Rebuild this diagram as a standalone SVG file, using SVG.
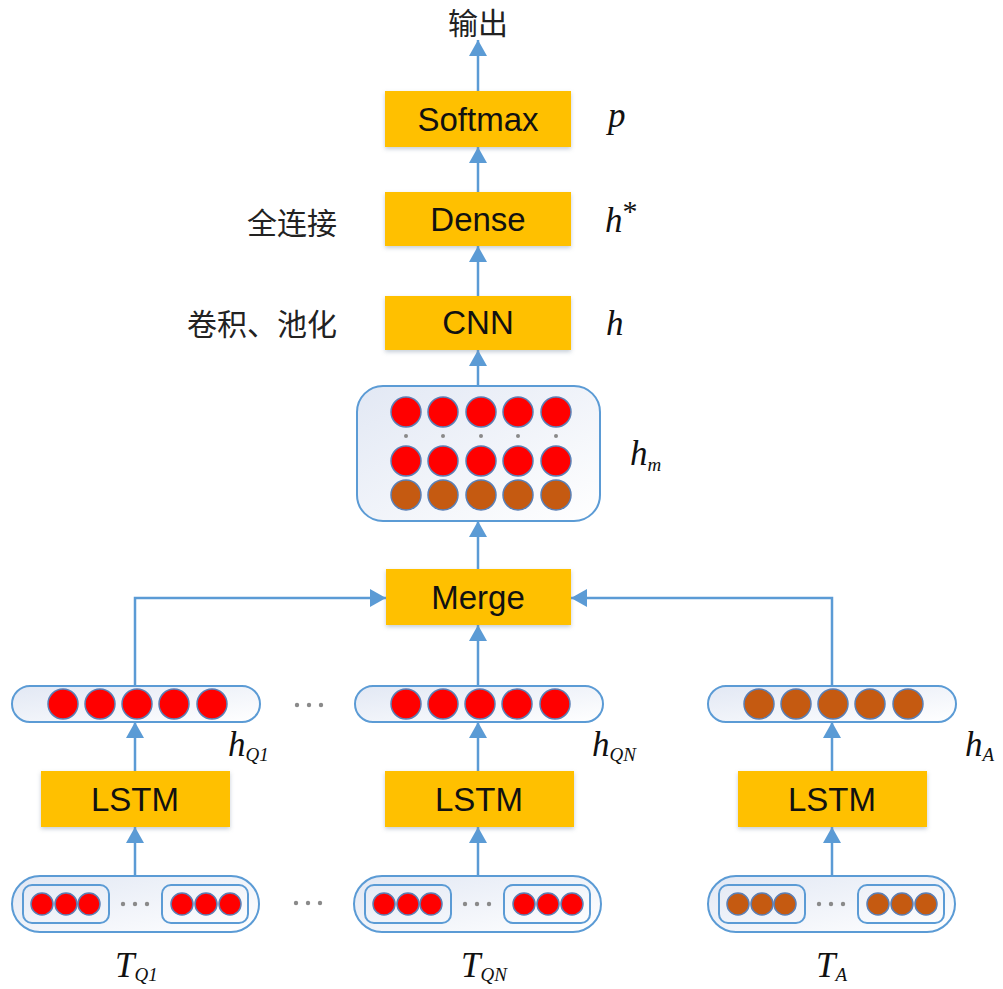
<svg xmlns="http://www.w3.org/2000/svg" xmlns:xlink="http://www.w3.org/1999/xlink" width="1003" height="989" viewBox="0 0 1003 989">
  <style>
    .box { fill: #FFC000; }
    .lbl { font-family: "Liberation Sans", Arial, sans-serif; font-size: 33px; fill: #111; text-anchor: middle; dominant-baseline: central; }
    .cjk { font-family: "Noto Sans CJK SC", "Liberation Sans", sans-serif; font-size: 30px; fill: #222; }
    .math { font-family: "Liberation Serif", "Times New Roman", serif; font-style: italic; font-size: 35px; fill: #111; }
    .sub { font-size: 19px; }
    .cap { fill: url(#capFill); stroke: #5B9BD5; stroke-width: 2; }
    .inner { fill: none; stroke: #5B9BD5; stroke-width: 2; }
    .red { fill: #FF0000; stroke: #5A7FB5; stroke-width: 1.5; }
    .brown { fill: #C55A11; stroke: #5A7FB5; stroke-width: 1.5; }
    .dot { fill: #8A8A8A; }
    .conn { fill: none; stroke: #5B9BD5; stroke-width: 2.5; marker-end: url(#arrow); }
  </style>
  <defs>
    <linearGradient id="capFill" x1="0" y1="0" x2="1" y2="1">
      <stop offset="0" stop-color="#E2E8F4"/>
      <stop offset="1" stop-color="#FFFFFF"/>
    </linearGradient>
    <filter id="shadow" x="-10%" y="-20%" width="120%" height="150%">
      <feDropShadow dx="0" dy="2" stdDeviation="2" flood-color="#7F8FA6" flood-opacity="0.45"/>
    </filter>
    <marker id="arrow" viewBox="0 0 16 18" refX="16" refY="9" markerWidth="16" markerHeight="18" markerUnits="userSpaceOnUse" orient="auto">
      <path d="M0,0 L16,9 L0,18 z" fill="#5B9BD5"/>
    </marker>
    <!-- token sequence: two word groups of three tokens separated by an ellipsis -->
    <g id="tokenSeq">
      <rect class="cap" x="0" y="0" width="247" height="56" rx="28"/>
      <rect class="inner" x="11" y="9" width="86" height="38" rx="9"/>
      <rect class="inner" x="150" y="9" width="86" height="38" rx="9"/>
      <circle cx="30" cy="28" r="11" fill="currentColor" stroke="#5A7FB5" stroke-width="1.5"/>
      <circle cx="54" cy="28" r="11" fill="currentColor" stroke="#5A7FB5" stroke-width="1.5"/>
      <circle cx="77" cy="28" r="11" fill="currentColor" stroke="#5A7FB5" stroke-width="1.5"/>
      <circle cx="170" cy="28" r="11" fill="currentColor" stroke="#5A7FB5" stroke-width="1.5"/>
      <circle cx="194" cy="28" r="11" fill="currentColor" stroke="#5A7FB5" stroke-width="1.5"/>
      <circle cx="218" cy="28" r="11" fill="currentColor" stroke="#5A7FB5" stroke-width="1.5"/>
      <circle class="dot" cx="111" cy="28" r="2.2"/>
      <circle class="dot" cx="123" cy="28" r="2.2"/>
      <circle class="dot" cx="135" cy="28" r="2.2"/>
    </g>
    <!-- hidden-state vector: five units in a capsule -->
    <g id="stateVec">
      <rect class="cap" x="0" y="0" width="248" height="36" rx="18"/>
      <circle cx="51" cy="18" r="15" fill="currentColor" stroke="#5A7FB5" stroke-width="1.5"/>
      <circle cx="88" cy="18" r="15" fill="currentColor" stroke="#5A7FB5" stroke-width="1.5"/>
      <circle cx="125" cy="18" r="15" fill="currentColor" stroke="#5A7FB5" stroke-width="1.5"/>
      <circle cx="162" cy="18" r="15" fill="currentColor" stroke="#5A7FB5" stroke-width="1.5"/>
      <circle cx="200" cy="18" r="15" fill="currentColor" stroke="#5A7FB5" stroke-width="1.5"/>
    </g>
  </defs>

  <rect width="1003" height="989" fill="#FFFFFF"/>

  <!-- connectors -->
  <g id="connectors">
    <path class="conn" d="M478,91 V40"/>
    <path class="conn" d="M478,192 V147"/>
    <path class="conn" d="M478,296 V246"/>
    <path class="conn" d="M478,387 V350"/>
    <path class="conn" d="M478,569 V521"/>
    <path class="conn" d="M478,686 V625"/>
    <path class="conn" d="M135,686 V598 H386"/>
    <path class="conn" d="M832,686 V598 H571"/>
    <path class="conn" d="M135,771 V722"/>
    <path class="conn" d="M478,771 V722"/>
    <path class="conn" d="M832,771 V722"/>
    <path class="conn" d="M135,876 V827"/>
    <path class="conn" d="M478,876 V827"/>
    <path class="conn" d="M832,876 V827"/>
  </g>

  <!-- output -->
  <g id="output">
    <text class="cjk" x="478" y="21" text-anchor="middle" dominant-baseline="central" font-size="28">输出</text>
  </g>

  <g id="softmax">
    <rect class="box" x="385" y="91" width="186" height="56" filter="url(#shadow)"/>
    <text class="lbl" x="478" y="119">Softmax</text>
    <text class="math" x="608" y="127">p</text>
  </g>

  <g id="dense">
    <rect class="box" x="385" y="192" width="186" height="54" filter="url(#shadow)"/>
    <text class="lbl" x="478" y="219">Dense</text>
    <text class="cjk" x="337" y="221" text-anchor="end" dominant-baseline="central">全连接</text>
    <text class="math" x="605" y="232">h<tspan dx="0" dy="-11" font-size="30" font-style="normal">*</tspan></text>
  </g>

  <g id="cnn">
    <rect class="box" x="385" y="296" width="186" height="54" filter="url(#shadow)"/>
    <text class="lbl" x="478" y="322">CNN</text>
    <text class="cjk" x="337" y="322" text-anchor="end" dominant-baseline="central">卷积、池化</text>
    <text class="math" x="606" y="335">h</text>
  </g>

  <g id="hm">
    <rect class="cap" x="357" y="386" width="243" height="135" rx="26"/>
    <circle class="red" cx="406" cy="412" r="15"/>
    <circle class="red" cx="443" cy="412" r="15"/>
    <circle class="red" cx="481" cy="412" r="15"/>
    <circle class="red" cx="518" cy="412" r="15"/>
    <circle class="red" cx="556" cy="412" r="15"/>
    <circle class="dot" cx="406" cy="436" r="2"/>
    <circle class="dot" cx="443" cy="436" r="2"/>
    <circle class="dot" cx="481" cy="436" r="2"/>
    <circle class="dot" cx="518" cy="436" r="2"/>
    <circle class="dot" cx="556" cy="436" r="2"/>
    <circle class="red" cx="406" cy="461" r="15"/>
    <circle class="red" cx="443" cy="461" r="15"/>
    <circle class="red" cx="481" cy="461" r="15"/>
    <circle class="red" cx="518" cy="461" r="15"/>
    <circle class="red" cx="556" cy="461" r="15"/>
    <circle class="brown" cx="406" cy="495" r="15"/>
    <circle class="brown" cx="443" cy="495" r="15"/>
    <circle class="brown" cx="481" cy="495" r="15"/>
    <circle class="brown" cx="518" cy="495" r="15"/>
    <circle class="brown" cx="556" cy="495" r="15"/>
    <text class="math" x="630" y="465">h<tspan class="sub" dy="6">m</tspan></text>
  </g>

  <g id="merge">
    <rect class="box" x="386" y="569" width="185" height="56" filter="url(#shadow)"/>
    <text class="lbl" x="478" y="597">Merge</text>
  </g>

  <!-- question 1 branch -->
  <g id="hQ1">
    <use xlink:href="#stateVec" x="12" y="686" style="color:#FF0000"/>
    <text class="math" x="228" y="756">h<tspan class="sub" dy="5">Q1</tspan></text>
  </g>
  <g id="lstmQ1">
    <rect class="box" x="41" y="771" width="189" height="56" filter="url(#shadow)"/>
    <text class="lbl" x="135" y="799">LSTM</text>
  </g>
  <g id="TQ1">
    <use xlink:href="#tokenSeq" x="12" y="876" style="color:#FF0000"/>
    <text class="math" x="115" y="977">T<tspan class="sub" dy="4">Q1</tspan></text>
  </g>

  <!-- ellipses between branches -->
  <g id="ellipsis">
    <circle class="dot" cx="297" cy="705" r="2.2"/>
    <circle class="dot" cx="309" cy="705" r="2.2"/>
    <circle class="dot" cx="321" cy="705" r="2.2"/>
    <circle class="dot" cx="296" cy="903" r="2.2"/>
    <circle class="dot" cx="308" cy="903" r="2.2"/>
    <circle class="dot" cx="320" cy="903" r="2.2"/>
  </g>

  <!-- question N branch -->
  <g id="hQN">
    <use xlink:href="#stateVec" x="355" y="686" style="color:#FF0000"/>
    <text class="math" x="592" y="756">h<tspan class="sub" dy="5">QN</tspan></text>
  </g>
  <g id="lstmQN">
    <rect class="box" x="385" y="771" width="189" height="56" filter="url(#shadow)"/>
    <text class="lbl" x="479" y="799">LSTM</text>
  </g>
  <g id="TQN">
    <use xlink:href="#tokenSeq" x="354" y="876" style="color:#FF0000"/>
    <text class="math" x="461" y="977">T<tspan class="sub" dy="4">QN</tspan></text>
  </g>

  <!-- answer branch -->
  <g id="hA">
    <use xlink:href="#stateVec" x="708" y="686" style="color:#C55A11"/>
    <text class="math" x="965" y="756">h<tspan class="sub" dy="5">A</tspan></text>
  </g>
  <g id="lstmA">
    <rect class="box" x="738" y="771" width="189" height="56" filter="url(#shadow)"/>
    <text class="lbl" x="832" y="799">LSTM</text>
  </g>
  <g id="TA">
    <use xlink:href="#tokenSeq" x="708" y="876" style="color:#C55A11"/>
    <text class="math" x="816" y="977">T<tspan class="sub" dy="4">A</tspan></text>
  </g>
</svg>
